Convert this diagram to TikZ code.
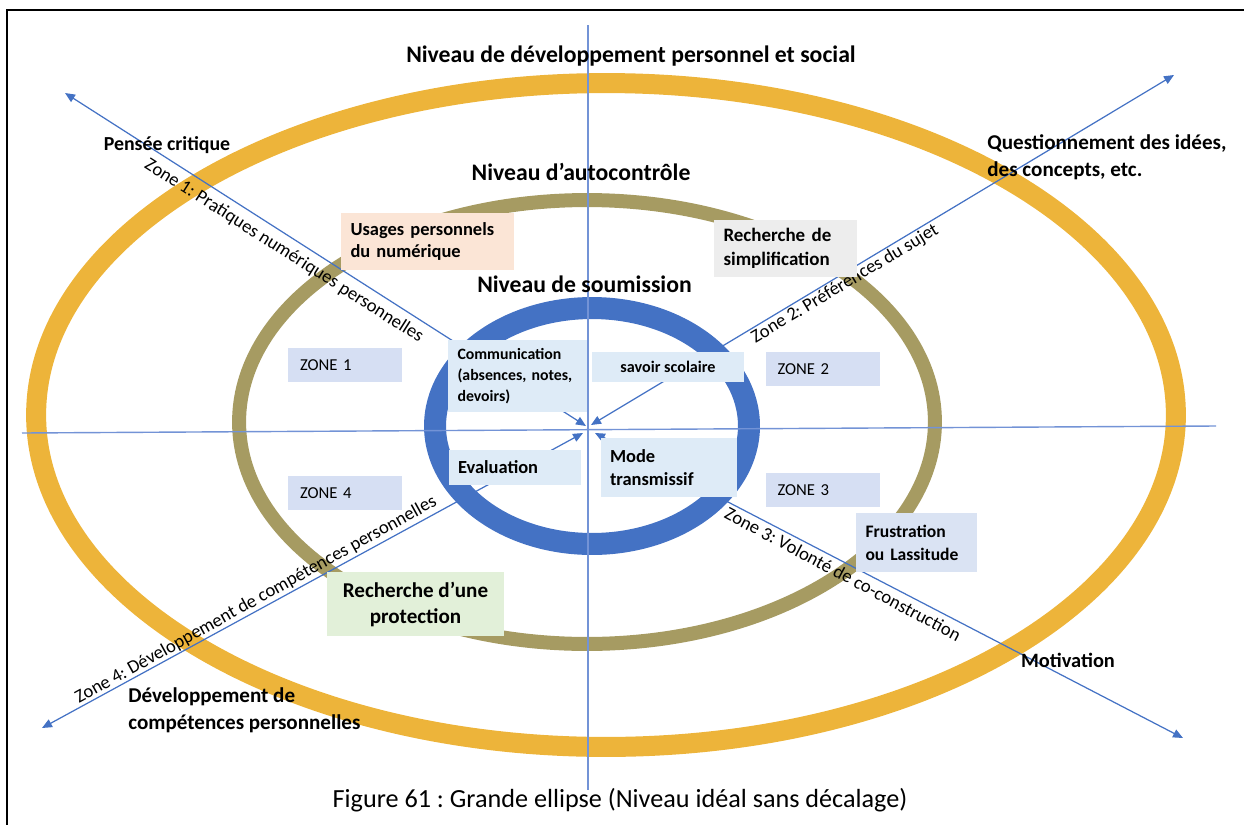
\documentclass[tikz,border=0pt]{standalone}
\usepackage{fontspec}
\setmainfont{Carlito}
\usepackage{tikz}
\usetikzlibrary{arrows.meta}
\definecolor{ringgold}{HTML}{EDB43A}
\definecolor{ringkhaki}{HTML}{A69B62}
\definecolor{ringblue}{HTML}{4472C4}
\definecolor{axisblue}{HTML}{7393D6}
\definecolor{boxpeach}{HTML}{FBE5D6}
\definecolor{boxgray}{HTML}{EDEDED}
\definecolor{boxblue}{HTML}{DEEBF7}
\definecolor{boxlav}{HTML}{DAE3F3}
\definecolor{boxgreen}{HTML}{E2F0D9}
\definecolor{zonefill}{HTML}{D6DFF3}
\frenchspacing

\begin{document}
\begin{tikzpicture}[
  x=0.02cm,y=-0.02cm,
  every node/.style={inner sep=0pt},
  axisline/.style={draw=axisblue,line width=0.8pt},
  diag/.style={draw=ringblue,line width=0.7pt,
               {Triangle[length=2mm,width=1.7mm]}-{Triangle[length=2mm,width=1.7mm]}},
  level/.style={font=\bfseries\fontsize{13.5}{16}\selectfont},
  pole/.style={font=\bfseries\fontsize{12}{15.5}\selectfont,align=left},
  zonetext/.style={font=\fontsize{10.6}{12}\selectfont},
  card/.style={fill=#1,inner xsep=0.19cm,inner ysep=0pt,align=left,
               font=\bfseries\fontsize{10.5}{13}\selectfont},
  zonebox/.style={fill=zonefill,inner xsep=0.24cm,inner ysep=0pt,align=left,
                  text width=1.8cm,minimum height=0.68cm,
                  font=\fontsize{9.5}{11}\selectfont}
]
  \useasboundingbox (0,0) rectangle (1244,825);

  % frame
  \draw[line width=1.4pt] (1244,10) -- (7,10) -- (7,825);

  % the three levels
  \draw[ringgold,line width=0.4cm] (606,415) ellipse [x radius=11.4cm,y radius=6.64cm];
  \draw[ringkhaki,line width=0.28cm] (587,422) ellipse [x radius=6.96cm,y radius=4.44cm];
  \draw[ringblue,line width=0.44cm] (592,426) ellipse [x radius=3.14cm,y radius=2.36cm];

  % axes
  \coordinate (axL) at (22,433);
  \coordinate (axR) at (1216,426);
  \coordinate (axT) at (588,25);
  \coordinate (axB) at (588,790);
  \draw[axisline] (axL) -- (axR);
  \draw[axisline] (axT) -- (axB);

  % diagonals
  \coordinate (ulEnd) at (65,93);    \coordinate (ulTip) at (586,426);
  \coordinate (urEnd) at (1174,75);  \coordinate (urTip) at (591,425);
  \coordinate (lrEnd) at (1183,738); \coordinate (lrTip) at (595,433);
  \coordinate (llEnd) at (42,728);   \coordinate (llTip) at (583,433);
  \draw[diag] (ulEnd) -- (ulTip);
  \draw[diag] (urEnd) -- (urTip);
  \draw[diag] (lrEnd) -- (lrTip);
  \draw[diag] (llEnd) -- (llTip);

  \node[zonetext,rotate=-32.5] (z1lab) at (284,251) {Zone 1: Pratiques numériques personnelles};
  \node[zonetext,rotate=31] (z2lab) at (845,284) {Zone 2: Préférences du sujet};
  \node[zonetext,rotate=-28] (z3lab) at (843,574) {Zone 3: Volonté de co-construction};
  \node[zonetext,rotate=29] (z4lab) at (256,600) {Zone 4: Développement de compétences personnelles};

  % level and pole labels
  \node[level] (devlvl) at (631,56) {Niveau de développement personnel et social};
  \node[level] (autolvl) at (581,172) {Niveau d’autocontrôle};
  \node[level] (soumlvl) at (584.5,284) {Niveau de soumission};
  \node[pole,font=\bfseries\fontsize{11.3}{13}\selectfont] (pensee) at (167,145) {Pensée critique};
  \node[pole,anchor=west] (quest) at (987,157) {Questionnement des idées,\\des concepts, etc.};
  \node[pole,font=\bfseries\fontsize{11.6}{13}\selectfont] (motiv) at (1068,660) {Motivation};
  \node[pole,anchor=west] (devcomp) at (128,710) {Développement de\\compétences personnelles};

  % boxes
  \node[card=boxpeach,text width=3.08cm,minimum height=1.14cm] (usages) at (427.5,241.5)
    {Usages personnels\\du numérique};
  \node[card=boxgray,text width=2.48cm,minimum height=1.14cm,
        font=\bfseries\fontsize{10.8}{13.5}\selectfont] (simp) at (785.5,248.5)
    {Recherche de\\simplification};
  \node[card=boxblue,text width=2.4cm,minimum height=1.44cm,
        font=\bfseries\fontsize{9}{12}\selectfont] (comm) at (517.5,376)
    {Communication\\(absences, notes,\\devoirs)};
  \node[card=boxblue,align=center,minimum width=3.04cm,minimum height=0.6cm,
        font=\bfseries\fontsize{9.2}{10}\selectfont] (savoir) at (668,367) {savoir scolaire};
  \node[card=boxblue,text width=2.28cm,minimum height=0.7cm] (eval) at (515,467.5) {Evaluation};
  \node[card=boxblue,text width=2.36cm,minimum height=1.18cm] (mode) at (669,467.5)
    {Mode\\transmissif};
  \node[card=boxlav,text width=2.04cm,minimum height=1.18cm,
        font=\bfseries\fontsize{10}{13}\selectfont] (frust) at (916.5,542.5)
    {Frustration\\ou Lassitude};
  \node[card=boxgreen,align=center,minimum width=3.54cm,minimum height=1.28cm,
        font=\bfseries\fontsize{12}{14.8}\selectfont] (prot) at (415.5,604)
    {Recherche d’une\\protection};

  \node[zonebox] (zone1) at (345,365) {ZONE 1};
  \node[zonebox] (zone2) at (822.5,369) {ZONE 2};
  \node[zonebox] (zone3) at (822.5,490) {ZONE 3};
  \node[zonebox] (zone4) at (345,493) {ZONE 4};

  % caption
  \node[font=\fontsize{14.9}{17}\selectfont] (caption) at (620,800)
    {Figure 61 : Grande ellipse (Niveau idéal sans décalage)};
\end{tikzpicture}
\end{document}
